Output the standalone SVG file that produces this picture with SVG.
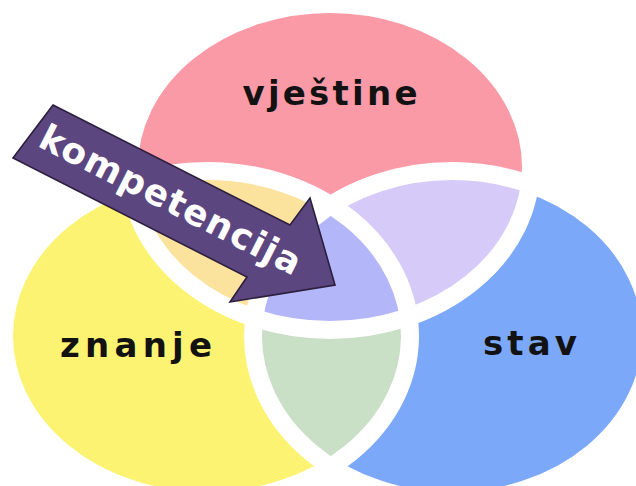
<svg xmlns="http://www.w3.org/2000/svg" width="636" height="486" viewBox="0 0 636 486">
  <style>
    .lbl { font-family: "DejaVu Sans", "Liberation Sans", Arial, sans-serif; font-weight: 700; font-size: 34px; fill: #121212; text-anchor: middle; }
    .band { fill: none; stroke: #ffffff; stroke-width: 18; }
    .arrowtxt { font-family: "DejaVu Sans", "Liberation Sans", Arial, sans-serif; font-weight: 700; font-size: 36px; fill: #ffffff; text-anchor: middle; }
  </style>
  <defs>
    <ellipse id="eP" cx="330" cy="167" rx="201" ry="163"/>
    <ellipse id="eY" cx="207" cy="336" rx="203" ry="165"/>
    <ellipse id="eB" cx="452" cy="336" rx="199" ry="165"/>
    <clipPath id="cP"><use href="#eP"/></clipPath>
    <clipPath id="cY"><use href="#eY"/></clipPath>
  </defs>
  <rect width="636" height="486" fill="#ffffff"/>

  <g id="node-vjestine">
    <use href="#eP" fill="#fb9aa7"/>
  </g>
  <g id="node-znanje">
    <use href="#eY" fill="#fcf373"/>
  </g>
  <g id="node-stav">
    <use href="#eB" fill="#7ba8f8"/>
  </g>
  <g id="overlaps">
    <g clip-path="url(#cP)"><use href="#eY" fill="#fbe39e"/></g>
    <g clip-path="url(#cP)"><use href="#eB" fill="#d6caf8"/></g>
    <g clip-path="url(#cY)"><use href="#eB" fill="#c9dfc6"/></g>
    <g clip-path="url(#cP)"><g clip-path="url(#cY)"><use href="#eB" fill="#b3b6f8"/></g></g>
  </g>
  <g id="bands">
    <use href="#eP" class="band"/>
    <use href="#eY" class="band"/>
    <use href="#eB" class="band"/>
  </g>
  <g id="labels">
    <text class="lbl" x="330" y="105" textLength="175" lengthAdjust="spacing">vještine</text>
    <text class="lbl" x="136" y="357" textLength="152" lengthAdjust="spacing">znanje</text>
    <text class="lbl" x="530" y="355" textLength="94" lengthAdjust="spacing">stav</text>
  </g>
  <g id="node-kompetencija">
    <polygon points="53,105 290,225 310,198 335,285 230,302 247,277 13,158" fill="#5c4680" stroke="#2c1f3d" stroke-width="1.6" stroke-linejoin="miter"/>
    <text class="arrowtxt" x="170" y="212" transform="rotate(26.9 170 201)" textLength="288" lengthAdjust="spacing">kompetencija</text>
  </g>
</svg>
